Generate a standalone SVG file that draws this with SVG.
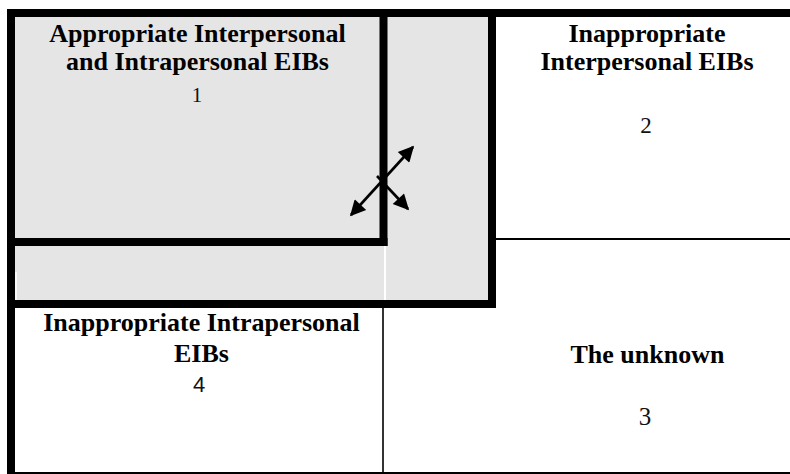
<svg xmlns="http://www.w3.org/2000/svg" width="790" height="474" viewBox="0 0 790 474">
  <style>
    .lbl { font-family: 'Liberation Serif', 'Times New Roman', serif; font-weight: bold; font-size: 26px; fill: #000; text-anchor: middle; }
    .num { font-family: 'Liberation Serif', 'Times New Roman', serif; fill: #111; text-anchor: middle; }
    .num-sans { font-family: 'Liberation Sans', Arial, sans-serif; fill: #111; text-anchor: middle; }
    .thick { stroke: #000; stroke-width: 8; fill: none; }
    .thin { stroke: #000; stroke-width: 2; fill: none; }
    .arrow { stroke: #000; stroke-width: 2.6; fill: none; }
  </style>
  <defs>
    <marker id="head" viewBox="0 0 10 10" refX="9" refY="5" markerWidth="7" markerHeight="6" markerUnits="strokeWidth" orient="auto-start-reverse">
      <path d="M0,0 L10,5 L0,10 Z" fill="#000"/>
    </marker>
  </defs>

  <rect width="790" height="474" fill="#fff"/>

  <!-- shaded region spanning quadrant 1 and its expansion -->
  <rect x="15" y="17" width="473" height="283" fill="#e5e5e5"/>
  <line x1="385" y1="246" x2="385" y2="300" stroke="#fff" stroke-width="2"/>
  <line x1="16" y1="272" x2="16" y2="300" stroke="#fff" stroke-width="1.5"/>

  <!-- grid lines: thin rules and heavy frame -->
  <g id="grid">
    <line class="thin" x1="496" y1="239" x2="790" y2="239"/>
    <line class="thin" x1="383" y1="308" x2="383" y2="474" style="stroke-width:1.6"/>
    <line class="thin" x1="15" y1="473" x2="790" y2="473"/>
    <line class="thick" x1="7" y1="13" x2="790" y2="13"/>
    <line class="thick" x1="11" y1="9" x2="11" y2="474"/>
    <line class="thick" x1="492" y1="9" x2="492" y2="308"/>
    <line class="thick" x1="7" y1="304" x2="496" y2="304"/>
    <line class="thick" x1="383.5" y1="9" x2="383.5" y2="246"/>
    <line class="thick" x1="7" y1="242" x2="387.5" y2="242"/>
  </g>

  <g id="q1">
    <text class="lbl" x="197.5" y="42">Appropriate Interpersonal</text>
    <text class="lbl" x="197.5" y="70">and Intrapersonal EIBs</text>
    <text class="num" x="197" y="102" font-size="21">1</text>
  </g>

  <g id="q2">
    <text class="lbl" x="647" y="42">Inappropriate</text>
    <text class="lbl" x="647" y="70">Interpersonal EIBs</text>
    <text class="num" x="646" y="133" font-size="23">2</text>
  </g>

  <g id="q3">
    <text class="lbl" x="647.5" y="363">The unknown</text>
    <text class="num" x="645" y="425" font-size="25">3</text>
  </g>

  <g id="q4">
    <text class="lbl" x="201.5" y="331">Inappropriate Intrapersonal</text>
    <text class="lbl" x="201.5" y="362">EIBs</text>
    <text class="num-sans" x="199" y="392" font-size="22">4</text>
  </g>

  <!-- expansion arrows -->
  <g id="connectors">
    <line class="arrow" x1="351" y1="215" x2="413" y2="147" marker-start="url(#head)" marker-end="url(#head)"/>
    <line class="arrow" x1="377" y1="176" x2="408" y2="209" marker-end="url(#head)"/>
  </g>
</svg>
